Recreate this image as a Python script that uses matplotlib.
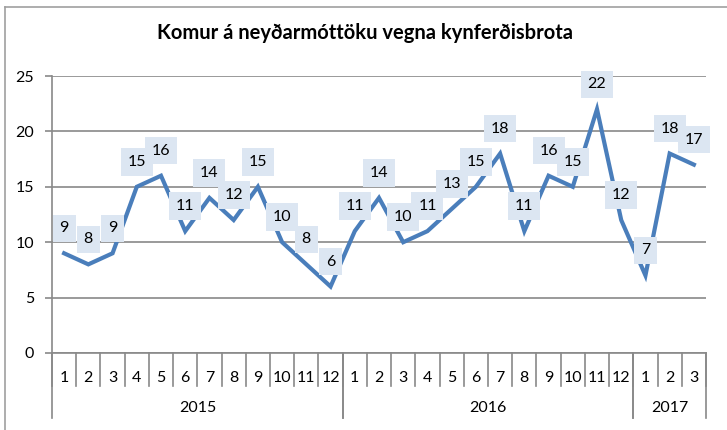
import matplotlib
matplotlib.use('Agg')
import matplotlib.pyplot as plt
from matplotlib.lines import Line2D

plt.rcParams['font.family'] = ['Lato', 'DejaVu Sans']

# --- Data ---
TITLE = 'Komur á neyðarmóttöku vegna kynferðisbrota'
years = ['2015', '2016', '2017']
months_per_year = [12, 12, 3]
months = [str(m) for m in range(1, 13)] + [str(m) for m in range(1, 13)] + ['1', '2', '3']
values = [9, 8, 9, 15, 16, 11, 14, 12, 15, 10, 8, 6,
          11, 14, 10, 11, 13, 15, 18, 11, 16, 15, 22, 12,
          7, 18, 17]

LINE_COLOR = '#4a7ebb'
GRID_COLOR = '#898989'
LABEL_BG = '#dce6f2'

W, H = 727, 430
fig = plt.figure(figsize=(W / 100, H / 100), dpi=100)

# outer chart frame (top and left edges visible)
fig.add_artist(Line2D([5 / W, 5 / W], [0, 1 - 7 / H], color='#a0a0a0', lw=1.2))
fig.add_artist(Line2D([5 / W, 1], [1 - 7 / H, 1 - 7 / H], color='#a0a0a0', lw=1.2))

left, right, top, bottom = 52, 706, 76, 353
ax = fig.add_axes([left / W, 1 - bottom / H, (right - left) / W, (bottom - top) / H])

n = len(values)
x = list(range(n))
ax.plot(x, values, color=LINE_COLOR, lw=3.0, solid_joinstyle='miter', zorder=3)

for xi, v in zip(x, values):
    ax.annotate(str(v), (xi, v), xytext=(0, 18), textcoords='offset points',
                ha='center', va='center', fontsize=11.5, color='black', zorder=4,
                bbox=dict(boxstyle='square,pad=0.42', fc=LABEL_BG, ec='none'))

ax.set_xlim(-0.5, n - 0.5)
ax.set_ylim(0, 25)
ax.set_yticks([0, 5, 10, 15, 20, 25])
ax.yaxis.grid(True, color=GRID_COLOR, lw=1.2)
ax.set_axisbelow(True)
ax.tick_params(axis='y', length=5, width=1.2, color=GRID_COLOR, labelsize=11.5, pad=8)
ax.set_xticks([])
for s in ['top', 'right']:
    ax.spines[s].set_visible(False)
for s in ['left', 'bottom']:
    ax.spines[s].set_color(GRID_COLOR)
    ax.spines[s].set_linewidth(1.2)

# multi-level category axis
trans = ax.get_xaxis_transform()
month_sep = -33 / (bottom - top)
year_sep = -65 / (bottom - top)
month_y = -25 / (bottom - top)
year_y = -55 / (bottom - top)

for i in range(n + 1):
    ax.plot([i - 0.5, i - 0.5], [0, month_sep], transform=trans, color=GRID_COLOR,
            lw=1.2, clip_on=False)
for i, m in enumerate(months):
    ax.text(i, month_y, m, transform=trans, ha='center', va='center', fontsize=11.5)

start = 0
for yr, cnt in zip(years, months_per_year):
    for b in (start, start + cnt):
        ax.plot([b - 0.5, b - 0.5], [0, year_sep], transform=trans, color=GRID_COLOR,
                lw=1.2, clip_on=False)
    ax.text(start + cnt / 2 - 0.5, year_y, yr, transform=trans, ha='center', va='center',
            fontsize=11.5)
    start += cnt

fig.text(365 / W, 1 - 33 / H, TITLE, ha='center', va='center', fontsize=14.5,
         fontweight='bold')

fig.savefig('out.png', dpi=100)
